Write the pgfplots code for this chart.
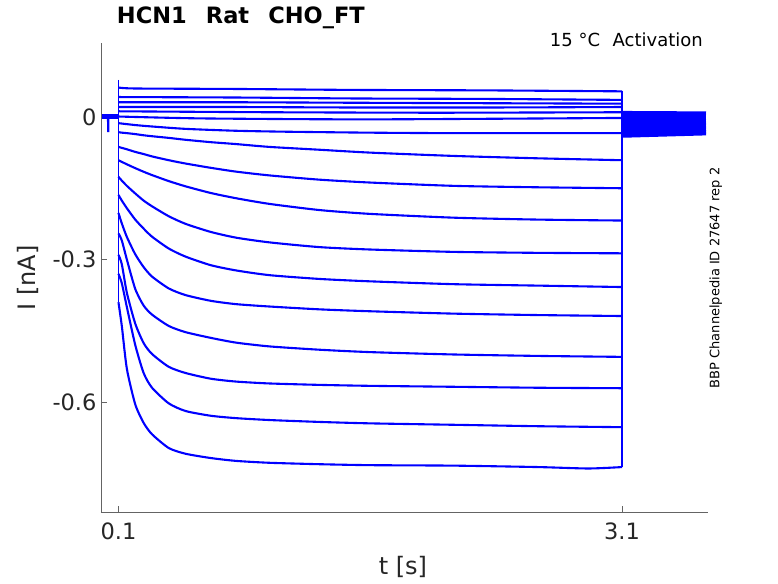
\documentclass[border=0pt]{standalone}
\usepackage{fontspec}
\setmainfont{DejaVu Sans}
\usepackage{pgfplots}
\pgfplotsset{compat=1.18}
\definecolor{axgray}{RGB}{100,100,100}
\definecolor{txt}{RGB}{38,38,38}
\definecolor{trace}{RGB}{0,0,255}
\tikzset{tr/.style={draw=trace, mark=none, solid, line width=2.1pt, line join=round, smooth, tension=0.4},
         st/.style={draw=trace, mark=none, solid, line width=1.6pt},
         tl/.style={draw=trace, mark=none, solid, line width=2.6pt}}
\begin{document}
\begin{tikzpicture}
\path[use as bounding box] (-101pt,-71pt) rectangle (677pt,512pt);
\begin{axis}[
  at={(0pt,0pt)}, anchor=south west,
  scale only axis, width=607pt, height=469pt,
  xmin=-0.004, xmax=3.612, ymin=-0.8316, ymax=0.1558,
  axis x line=bottom, axis y line=left,
  axis line style={-, draw=axgray, line width=0.6pt},
  tick style={draw=axgray, line width=0.6pt},
  major tick length=6pt, tick align=inside,
  xtick={0.1,3.1}, xticklabels={0.1,3.1},
  ytick={-0.6,-0.3,0}, yticklabels={-0.6,-0.3,{0\hspace{21pt}}},
  tick label style={font=\fontsize{22.5}{26}\selectfont, text=txt},
  xticklabel style={yshift=-7pt},
  yticklabel style={xshift=-1pt},
  clip=false,
]
% holding segment and spike
\addplot[st, line width=5pt] coordinates {(0.001,0.0) (0.1,0.0)};
\addplot[st, line width=2.2pt] coordinates {(0.038,0) (0.039,-0.032) (0.040,0)};
% capacitive / step verticals
\addplot[st] coordinates {(0.1,0.078) (0.1,-0.39)};
\addplot[st] coordinates {(3.1,0.054) (3.1,-0.737)};
% tails after the step
\addplot[tl] coordinates {(3.1,0.010) (3.6,0.009)};
\addplot[tl] coordinates {(3.1,0.008) (3.6,0.007)};
\addplot[tl] coordinates {(3.1,0.006) (3.6,0.005)};
\addplot[tl] coordinates {(3.1,0.004) (3.6,0.003)};
\addplot[tl] coordinates {(3.1,0.002) (3.6,0.002)};
\addplot[tl] coordinates {(3.1,-0.001) (3.6,-0.001)};
\addplot[tl] coordinates {(3.1,-0.004) (3.6,-0.003)};
\addplot[tl] coordinates {(3.1,-0.008) (3.6,-0.007)};
\addplot[tl] coordinates {(3.1,-0.013) (3.6,-0.011)};
\addplot[tl] coordinates {(3.1,-0.018) (3.6,-0.015)};
\addplot[tl] coordinates {(3.1,-0.022) (3.6,-0.019)};
\addplot[tl] coordinates {(3.1,-0.026) (3.6,-0.022)};
\addplot[tl] coordinates {(3.1,-0.030) (3.6,-0.026)};
\addplot[tl] coordinates {(3.1,-0.033) (3.6,-0.028)};
\addplot[tl] coordinates {(3.1,-0.036) (3.6,-0.031)};
\addplot[tl] coordinates {(3.1,-0.038) (3.6,-0.033)};
\addplot[tl] coordinates {(3.1,-0.041) (3.6,-0.036)};
% T1
\addplot[tr] coordinates {(0.1,0.062) (0.2,0.060) (0.8,0.059) (1.5,0.057) (2.3,0.056) (3.1,0.054)};
% T2
\addplot[tr] coordinates {(0.1,0.042) (0.8,0.041) (1.5,0.039) (2.3,0.038) (3.1,0.036)};
% T3
\addplot[tr] coordinates {(0.1,0.031) (0.8,0.031) (1.5,0.030) (2.3,0.029) (3.1,0.028)};
% T4
\addplot[tr] coordinates {(0.1,0.021) (0.8,0.021) (1.5,0.020) (2.3,0.020) (3.1,0.021)};
% T5
\addplot[tr] coordinates {(0.1,0.012) (1.0,0.010) (2.0,0.009) (3.1,0.010)};
% T6
\addplot[tr] coordinates {(0.1,0.001) (0.6,-0.003) (1.6,-0.005) (3.1,-0.002)};
% T7
\addplot[tr] coordinates {(0.1,-0.013) (0.2,-0.017) (0.3,-0.020) (0.5,-0.025) (0.8,-0.029) (1.1,-0.031) (1.6,-0.033) (2.1,-0.034) (3.1,-0.034)};
% T8
\addplot[tr] coordinates {(0.1,-0.032) (0.12,-0.033) (0.15,-0.034) (0.2,-0.036) (0.25,-0.0385) (0.3,-0.0405) (0.4,-0.044) (0.5,-0.048) (0.65,-0.053) (0.8,-0.057) (1.0,-0.063) (1.3,-0.069) (1.6,-0.075) (2.1,-0.082) (2.6,-0.087) (3.1,-0.091)};
% T9
\addplot[tr] coordinates {(0.1,-0.063) (0.12,-0.065) (0.15,-0.068) (0.2,-0.0735) (0.25,-0.078) (0.3,-0.083) (0.4,-0.091) (0.5,-0.098) (0.65,-0.107) (0.8,-0.115) (1.0,-0.123) (1.3,-0.132) (1.6,-0.138) (2.1,-0.145) (2.6,-0.148) (3.1,-0.150)};
% T10
\addplot[tr] coordinates {(0.1,-0.091) (0.12,-0.0945) (0.15,-0.0996) (0.2,-0.1077) (0.25,-0.1153) (0.3,-0.1223) (0.4,-0.135) (0.5,-0.146) (0.65,-0.160) (0.8,-0.171) (1.0,-0.183) (1.3,-0.196) (1.6,-0.204) (2.1,-0.212) (2.6,-0.216) (3.1,-0.218)};
% T11
\addplot[tr] coordinates {(0.1,-0.126) (0.12,-0.134) (0.15,-0.145) (0.2,-0.161) (0.25,-0.176) (0.3,-0.188) (0.4,-0.209) (0.5,-0.225) (0.65,-0.242) (0.8,-0.254) (1.0,-0.264) (1.3,-0.274) (1.6,-0.279) (2.1,-0.284) (2.6,-0.286) (3.1,-0.287)};
% T12
\addplot[tr] coordinates {(0.1,-0.164) (0.12,-0.176) (0.15,-0.192) (0.2,-0.216) (0.25,-0.235) (0.3,-0.252) (0.4,-0.277) (0.5,-0.294) (0.65,-0.312) (0.8,-0.323) (1.0,-0.333) (1.3,-0.341) (1.6,-0.346) (2.1,-0.352) (2.6,-0.355) (3.1,-0.358)};
% T13
\addplot[tr] coordinates {(0.1,-0.202) (0.12,-0.224) (0.15,-0.2525) (0.2,-0.289) (0.25,-0.316) (0.3,-0.336) (0.4,-0.361) (0.5,-0.375) (0.65,-0.387) (0.8,-0.394) (1.0,-0.399) (1.3,-0.405) (1.6,-0.409) (2.1,-0.414) (2.6,-0.417) (3.1,-0.419)};
% T14
\addplot[tr] coordinates {(0.1,-0.245) (0.12,-0.26) (0.15,-0.30) (0.2,-0.362) (0.25,-0.397) (0.3,-0.416) (0.4,-0.440) (0.5,-0.453) (0.65,-0.465) (0.8,-0.475) (1.0,-0.483) (1.3,-0.490) (1.6,-0.495) (2.1,-0.500) (2.6,-0.503) (3.1,-0.505)};
% T15
\addplot[tr] coordinates {(0.1,-0.29) (0.12,-0.31) (0.15,-0.37) (0.2,-0.435) (0.25,-0.476) (0.3,-0.499) (0.4,-0.526) (0.5,-0.539) (0.65,-0.551) (0.8,-0.557) (1.0,-0.561) (1.3,-0.564) (1.6,-0.566) (2.1,-0.568) (2.6,-0.570) (3.1,-0.571)};
% T16
\addplot[tr] coordinates {(0.1,-0.33) (0.12,-0.35) (0.15,-0.40) (0.2,-0.48) (0.25,-0.539) (0.3,-0.570) (0.4,-0.603) (0.5,-0.619) (0.65,-0.629) (0.8,-0.634) (1.0,-0.638) (1.3,-0.642) (1.6,-0.645) (2.1,-0.648) (2.6,-0.651) (3.1,-0.653)};
% T17
\addplot[tr] coordinates {(0.1,-0.39) (0.12,-0.44) (0.15,-0.53) (0.2,-0.605) (0.25,-0.644) (0.3,-0.668) (0.4,-0.697) (0.5,-0.709) (0.65,-0.718) (0.8,-0.724) (1.0,-0.728) (1.3,-0.731) (1.6,-0.733) (2.1,-0.734) (2.6,-0.737) (2.9,-0.740) (3.1,-0.737)};
% texts
\node[font=\fontsize{24}{28}\selectfont, text=txt] at (rel axis cs:0.4975,-0.117) {t [s]};
\node[font=\fontsize{24}{28}\selectfont, text=txt, rotate=90] at (rel axis cs:-0.120,0.499) {I [nA]};
\node[font=\bfseries\fontsize{22.5}{26}\selectfont, text=black, anchor=west, inner sep=0pt] at (rel axis cs:0.026,1.053) {HCN1\hspace{0.85em}Rat\hspace{0.85em}CHO\_FT};
\node[font=\fontsize{18}{21}\selectfont, text=black, anchor=east, inner sep=0pt] at (rel axis cs:0.9918,1.006) {15 °C\hspace{0.7em}Activation};
\node[font=\fontsize{13}{16}\selectfont, text=black, rotate=90, inner sep=0pt] at (rel axis cs:1.013,0.499) {BBP Channelpedia ID 27647 rep 2};
\end{axis}
\end{tikzpicture}
\end{document}
